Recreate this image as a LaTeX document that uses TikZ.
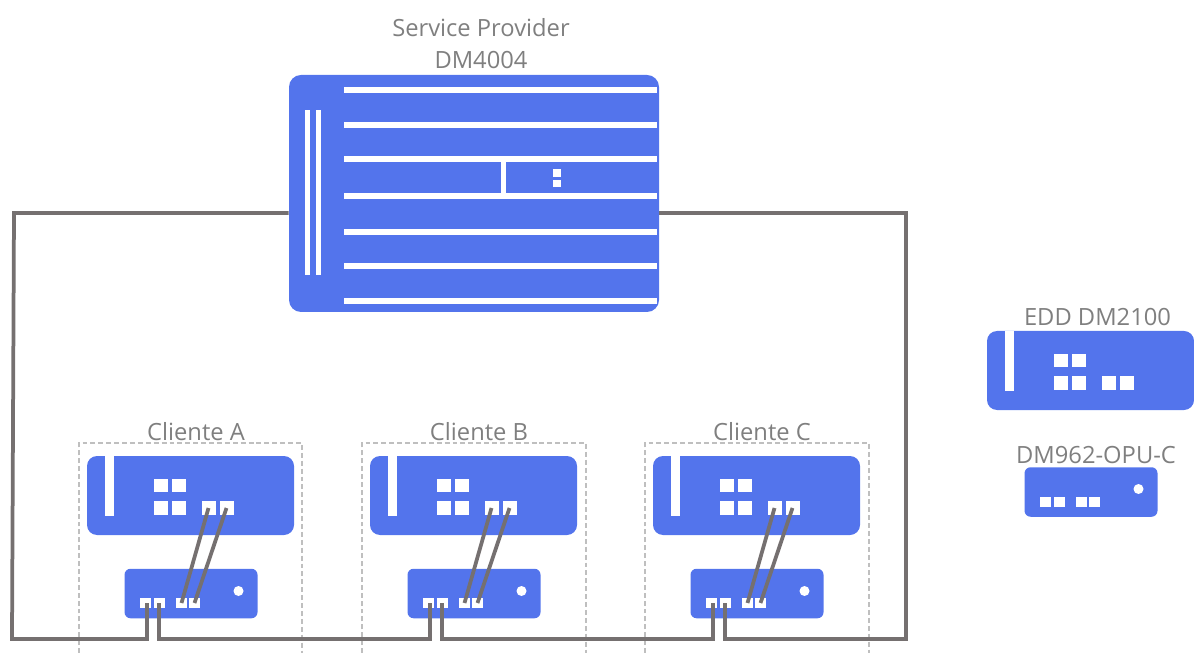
\documentclass[tikz,border=0pt]{standalone}
\usepackage{fontspec}
\setmainfont{Open Sans}
\definecolor{devblue}{HTML}{5374EC}
\definecolor{cablegray}{HTML}{757070}
\definecolor{labelgray}{HTML}{7F7F7F}
\definecolor{boxgray}{HTML}{BFBFBF}
\tikzset{
  router/.style={fill=devblue,rounded corners=2mm,inner sep=0,minimum width=4.14cm,minimum height=1.58cm},
  opu/.style={fill=devblue,rounded corners=1.2mm,inner sep=0,minimum width=2.66cm,minimum height=0.99cm},
  bigport/.style={fill=white,inner sep=0,minimum width=0.28cm,minimum height=0.27cm},
  smallport/.style={fill=white,inner sep=0,minimum width=0.22cm,minimum height=0.2cm},
  led/.style={fill=white,circle,inner sep=0,minimum size=0.2cm},
  slot/.style={white,line width=0.12cm},
  cable/.style={cablegray,line width=0.075cm},
  clientbox/.style={boxgray,line width=0.025cm,dash pattern=on 2.8pt off 1.7pt},
  caption/.style={labelgray,font=\fontsize{13.5}{16}\selectfont,inner sep=0}
}

\begin{document}
\begin{tikzpicture}
\useasboundingbox (0,0) rectangle (23.88,-13.06);

%%%% client boxes
\draw[clientbox] (1.58,-13.06) -- (1.58,-8.86) -- (6.04,-8.86) -- (6.04,-13.06);
\draw[clientbox] (7.24,-13.06) -- (7.24,-8.86) -- (11.72,-8.86) -- (11.72,-13.06);
\draw[clientbox] (12.90,-13.06) -- (12.90,-8.86) -- (17.38,-8.86) -- (17.38,-13.06);

%%%% service provider
\node[fill=devblue,rounded corners=2.4mm,inner sep=0,minimum width=7.4cm,minimum height=4.74cm] (provider) at (9.48,-3.87) {};
\fill[white] (6.10,-2.20) rectangle (6.20,-5.50);
\fill[white] (6.32,-2.20) rectangle (6.42,-5.50);
\draw[slot] (6.88,-1.81) -- (13.14,-1.81);
\draw[slot] (6.88,-2.51) -- (13.14,-2.51);
\draw[slot] (6.88,-3.19) -- (13.14,-3.19);
\draw[slot] (6.88,-3.93) -- (13.14,-3.93);
\draw[slot] (6.88,-4.65) -- (13.14,-4.65);
\draw[slot] (6.88,-5.33) -- (13.14,-5.33);
\draw[slot] (6.88,-6.03) -- (13.14,-6.03);
\fill[white] (10.01,-3.19) rectangle (10.11,-3.93);
\node[fill=white,inner sep=0,minimum width=0.16cm,minimum height=0.15cm] (providerA) at (11.14,-3.46) {};
\node[fill=white,inner sep=0,minimum width=0.16cm,minimum height=0.15cm] (providerB) at (11.14,-3.67) {};

\node[caption] (providerName) at (9.62,-0.56) {Service Provider};
\node[caption] (providerModel) at (9.62,-1.20) {DM4004};

%%%% cliente A
\node[caption] (nameA) at (3.92,-8.64) {Cliente A};
\node[router] (routerA) at (3.81,-9.91) {};
\fill[white] (2.10,-9.12) rectangle (2.28,-10.32);
\node[bigport] (gridA1) at (3.22,-9.71) {};
\node[bigport] (gridA2) at (3.58,-9.71) {};
\node[bigport] (gridA3) at (3.22,-10.16) {};
\node[bigport] (gridA4) at (3.58,-10.16) {};
\node[bigport] (upA1) at (4.17,-10.16) {};
\node[bigport] (upA2) at (4.53,-10.16) {};
\node[opu] (opuA) at (3.82,-11.87) {};
\node[led] (ledA) at (4.77,-11.82) {};
\node[smallport] (lineA1) at (2.91,-12.06) {};
\node[smallport] (lineA2) at (3.19,-12.06) {};
\node[smallport] (downA1) at (3.63,-12.06) {};
\node[smallport] (downA2) at (3.89,-12.06) {};

%%%% cliente B
\node[caption] (nameB) at (9.58,-8.64) {Cliente B};
\node[router] (routerB) at (9.47,-9.91) {};
\fill[white] (7.76,-9.12) rectangle (7.94,-10.32);
\node[bigport] (gridB1) at (8.88,-9.71) {};
\node[bigport] (gridB2) at (9.24,-9.71) {};
\node[bigport] (gridB3) at (8.88,-10.16) {};
\node[bigport] (gridB4) at (9.24,-10.16) {};
\node[bigport] (upB1) at (9.83,-10.16) {};
\node[bigport] (upB2) at (10.19,-10.16) {};
\node[opu] (opuB) at (9.48,-11.87) {};
\node[led] (ledB) at (10.43,-11.82) {};
\node[smallport] (lineB1) at (8.57,-12.06) {};
\node[smallport] (lineB2) at (8.85,-12.06) {};
\node[smallport] (downB1) at (9.29,-12.06) {};
\node[smallport] (downB2) at (9.55,-12.06) {};

%%%% cliente C
\node[caption] (nameC) at (15.24,-8.64) {Cliente C};
\node[router] (routerC) at (15.13,-9.91) {};
\fill[white] (13.42,-9.12) rectangle (13.60,-10.32);
\node[bigport] (gridC1) at (14.54,-9.71) {};
\node[bigport] (gridC2) at (14.90,-9.71) {};
\node[bigport] (gridC3) at (14.54,-10.16) {};
\node[bigport] (gridC4) at (14.90,-10.16) {};
\node[bigport] (upC1) at (15.49,-10.16) {};
\node[bigport] (upC2) at (15.85,-10.16) {};
\node[opu] (opuC) at (15.14,-11.87) {};
\node[led] (ledC) at (16.09,-11.82) {};
\node[smallport] (lineC1) at (14.23,-12.06) {};
\node[smallport] (lineC2) at (14.51,-12.06) {};
\node[smallport] (downC1) at (14.95,-12.06) {};
\node[smallport] (downC2) at (15.21,-12.06) {};

%%%% legend devices
\node[caption] (nameEdd) at (21.95,-6.35) {EDD DM2100};
\node[router] (routerEdd) at (21.81,-7.41) {};
\fill[white] (20.10,-6.62) rectangle (20.28,-7.82);
\node[bigport] (gridE1) at (21.22,-7.21) {};
\node[bigport] (gridE2) at (21.58,-7.21) {};
\node[bigport] (gridE3) at (21.22,-7.66) {};
\node[bigport] (gridE4) at (21.58,-7.66) {};
\node[bigport] (upE1) at (22.17,-7.66) {};
\node[bigport] (upE2) at (22.53,-7.66) {};

\node[caption] (nameOpu) at (21.92,-9.11) {DM962-OPU-C};
\node[opu] (opuLegend) at (21.82,-9.84) {};
\node[led] (ledLegend) at (22.77,-9.78) {};
\node[smallport] (lineL1) at (20.91,-10.03) {};
\node[smallport] (lineL2) at (21.19,-10.03) {};
\node[smallport] (downL1) at (21.63,-10.03) {};
\node[smallport] (downL2) at (21.89,-10.03) {};

%% cables
\draw[cable] (upA1.center) -- (downA1.center);
\draw[cable] (upA2.center) -- (downA2.center);
\draw[cable] (upB1.center) -- (downB1.center);
\draw[cable] (upB2.center) -- (downB2.center);
\draw[cable] (upC1.center) -- (downC1.center);
\draw[cable] (upC2.center) -- (downC2.center);

% ring
\coordinate (trunkL) at (0.28,-4.26);
\coordinate (floorL) at (0.24,-12.78);
\coordinate (trunkR) at (18.12,-4.26);
\coordinate (floorR) at (18.12,-12.78);
\coordinate (tapA1) at (2.94,-12.78);
\coordinate (tapA2) at (3.18,-12.78);
\coordinate (tapB1) at (8.60,-12.78);
\coordinate (tapB2) at (8.84,-12.78);
\coordinate (tapC1) at (14.26,-12.78);
\coordinate (tapC2) at (14.50,-12.78);

\draw[cable] (provider.west |- trunkL) -- (trunkL) -- (floorL) -- (tapA1) -- (tapA1 |- lineA1.center);
\draw[cable] (tapA2 |- lineA2.center) -- (tapA2) -- (tapB1) -- (tapB1 |- lineB1.center);
\draw[cable] (tapB2 |- lineB2.center) -- (tapB2) -- (tapC1) -- (tapC1 |- lineC1.center);
\draw[cable] (tapC2 |- lineC2.center) -- (tapC2) -- (floorR) -- (trunkR) -- (provider.east |- trunkR);

\end{tikzpicture}
\end{document}
